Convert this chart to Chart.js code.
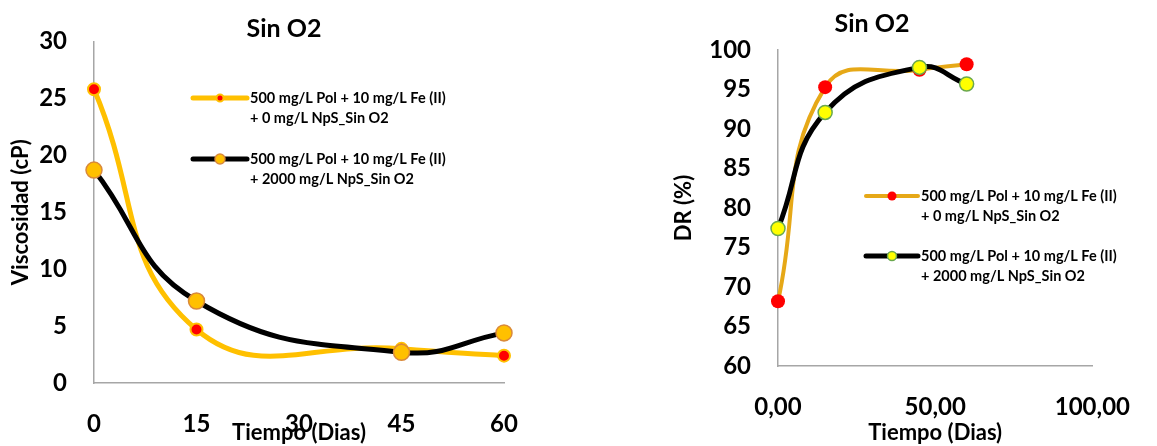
<!DOCTYPE html>
<html>
<head>
<meta charset="utf-8">
<script src="https://cdn.jsdelivr.net/npm/chart.js@4.4.1/dist/chart.umd.min.js"></script>
<style>
  body { margin: 0; background: #fff; width: 1157px; height: 446px; position: relative; overflow: hidden; }
  .panel { position: absolute; top: 0; height: 446px; }
  #visc-box { left: 0; width: 560px; }
  #dr-box { left: 580px; width: 577px; }
</style>
</head>
<body>
<div class="panel" id="visc-box"><canvas id="visc" width="560" height="446"></canvas></div>
<div class="panel" id="dr-box"><canvas id="dr" width="577" height="446"></canvas></div>
<script>
// muestreo (dias)
const dias = [0, 15, 45, 60];

// viscosidad (cP)
const viscSinNps = [25.8, 4.7, 3.0, 2.4];
const viscConNps = [18.7, 7.2, 2.7, 4.4];

// DR (%)
const drSinNps = [68.2, 95.3, 97.5, 98.2];
const drConNps = [77.4, 92.1, 97.8, 95.7];

const serieSinNps = ['500 mg/L Pol + 10 mg/L Fe (II)', '+ 0 mg/L NpS_Sin O2'];
const serieConNps = ['500 mg/L Pol + 10 mg/L Fe (II)', '+ 2000 mg/L NpS_Sin O2'];

const titulo = 'Sin O2';
const tituloX = 'Tiempo (Dias)';

Chart.defaults.font.family = 'Lato';
Chart.defaults.font.weight = 'bold';
Chart.defaults.color = '#000';

const puntos = (vals) => dias.map((d, i) => ({ x: d, y: vals[i] }));

// titulo encima del grafico
const encabezado = {
  id: 'encabezado',
  afterDraw(chart, args, opts) {
    const ctx = chart.ctx;
    ctx.save();
    ctx.font = 'bold 25px Lato';
    ctx.fillStyle = '#000';
    ctx.textAlign = 'center';
    ctx.textBaseline = 'middle';
    ctx.fillText(opts.text, opts.x, opts.y);
    ctx.restore();
  }
};

// leyenda dentro del area del grafico
const leyenda = {
  id: 'leyenda',
  afterDatasetsDraw(chart, args, opts) {
    const ctx = chart.ctx;
    ctx.save();
    chart.data.datasets.forEach((ds, i) => {
      const y = opts.y + i * opts.gap;
      ctx.strokeStyle = ds.borderColor;
      ctx.lineWidth = ds.borderWidth;
      ctx.lineCap = 'round';
      ctx.beginPath();
      ctx.moveTo(opts.x, y);
      ctx.lineTo(opts.x + opts.largo, y);
      ctx.stroke();

      ctx.beginPath();
      ctx.arc(opts.x + opts.largo / 2, y, opts.radios[i], 0, Math.PI * 2);
      ctx.fillStyle = ds.pointBackgroundColor;
      ctx.fill();
      if (ds.pointBorderWidth) {
        ctx.lineWidth = ds.pointBorderWidth;
        ctx.strokeStyle = ds.pointBorderColor;
        ctx.stroke();
      }

      ctx.fillStyle = '#000';
      ctx.font = 'bold 14.5px Lato';
      ctx.textBaseline = 'middle';
      ctx.textAlign = 'left';
      ds.label.forEach((linea, j) => {
        ctx.fillText(linea, opts.x + opts.largo + 3, y + j * 20);
      });
    });
    ctx.restore();
  }
};

const ejeGris = { display: true, color: '#A6A6A6', width: 1.5 };
const sinGrilla = { display: false, drawTicks: false };

new Chart(document.getElementById('visc'), {
  type: 'scatter',
  data: {
    datasets: [
      {
        label: serieSinNps,
        data: puntos(viscSinNps),
        showLine: true,
        borderColor: '#FFC000',
        borderWidth: 5,
        tension: 0.45,
        pointRadius: 6,
        pointBackgroundColor: '#FF0000',
        pointBorderColor: '#FFC000',
        pointBorderWidth: 2,
        clip: false,
        order: 1
      },
      {
        label: serieConNps,
        data: puntos(viscConNps),
        showLine: true,
        borderColor: '#000000',
        borderWidth: 5,
        tension: 0.45,
        pointRadius: 8,
        pointBackgroundColor: '#FFC000',
        pointBorderColor: '#D9893A',
        pointBorderWidth: 1.5,
        clip: false,
        order: 0
      }
    ]
  },
  options: {
    responsive: false,
    animation: false,
    layout: { padding: { top: 40, right: 56, left: 0, bottom: 0 } },
    plugins: {
      legend: { display: false },
      tooltip: { enabled: false },
      encabezado: { text: titulo, x: 284, y: 29 },
      leyenda: { x: 193, y: 98, gap: 61, largo: 54, radios: [3.5, 5] }
    },
    scales: {
      x: {
        type: 'linear',
        min: 0, max: 60,
        ticks: { stepSize: 15, padding: 27, maxRotation: 0, font: { size: 24, weight: 'bold' } },
        grid: sinGrilla,
        border: ejeGris,
        title: { display: true, text: tituloX, font: { size: 22, weight: 'bold' }, padding: { top: 0, bottom: 0 } },
        afterFit: (s) => { s.height = 63; }
      },
      y: {
        min: 0, max: 30,
        ticks: { stepSize: 5, padding: 27, font: { size: 24, weight: 'bold' } },
        grid: sinGrilla,
        border: ejeGris,
        title: { display: true, text: 'Viscosidad (cP)', font: { size: 22, weight: 'bold' }, padding: { top: 8, bottom: 0 } },
        afterFit: (s) => { s.width = 94; }
      }
    }
  },
  plugins: [encabezado, leyenda]
});

new Chart(document.getElementById('dr'), {
  type: 'scatter',
  data: {
    datasets: [
      {
        label: serieSinNps,
        data: puntos(drSinNps),
        showLine: true,
        borderColor: '#E6A817',
        borderWidth: 4,
        tension: 0.45,
        pointRadius: 7,
        pointBackgroundColor: '#FF0000',
        pointBorderColor: '#FF0000',
        pointBorderWidth: 0,
        clip: false,
        order: 1
      },
      {
        label: serieConNps,
        data: puntos(drConNps),
        showLine: true,
        borderColor: '#000000',
        borderWidth: 5,
        tension: 0.45,
        pointRadius: 7,
        pointBackgroundColor: '#FFFF00',
        pointBorderColor: '#6AA84F',
        pointBorderWidth: 1.5,
        clip: false,
        order: 0
      }
    ]
  },
  options: {
    responsive: false,
    animation: false,
    layout: { padding: { top: 50, right: 49, left: 0, bottom: 0 } },
    plugins: {
      legend: { display: false },
      tooltip: { enabled: false },
      encabezado: { text: titulo, x: 292, y: 24 },
      leyenda: { x: 286, y: 196, gap: 60, largo: 52, radios: [4.5, 4.5] }
    },
    scales: {
      x: {
        type: 'linear',
        min: 0, max: 100,
        ticks: {
          stepSize: 50, padding: 27, maxRotation: 0,
          font: { size: 24, weight: 'bold' },
          callback: (v) => v.toFixed(2).replace('.', ',')
        },
        grid: sinGrilla,
        border: ejeGris,
        title: { display: true, text: tituloX, font: { size: 22, weight: 'bold' }, padding: { top: 0, bottom: 0 } },
        afterFit: (s) => { s.height = 80; }
      },
      y: {
        min: 60, max: 100,
        ticks: { stepSize: 5, padding: 27, font: { size: 24, weight: 'bold' } },
        grid: sinGrilla,
        border: ejeGris,
        title: { display: true, text: 'DR (%)', font: { size: 22, weight: 'bold' }, padding: { top: 91, bottom: 0 } },
        afterFit: (s) => { s.width = 198; }
      }
    }
  },
  plugins: [encabezado, leyenda]
});
</script>
</body>
</html>
